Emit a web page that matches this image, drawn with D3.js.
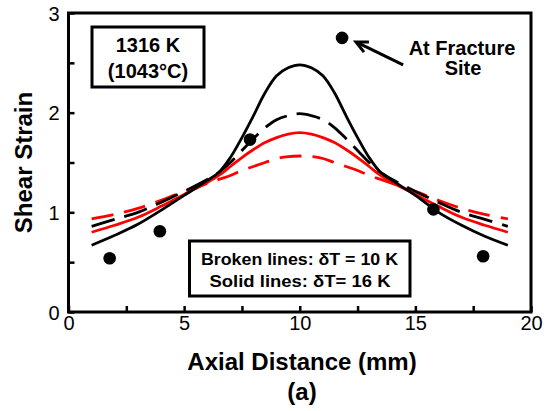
<!DOCTYPE html>
<html><head><meta charset="utf-8">
<script src="https://cdn.jsdelivr.net/npm/d3@7"></script>
<style>body{margin:0;background:#fff}svg{display:block}text{font-family:"Liberation Sans",Arial,sans-serif}</style>
</head><body><svg id="c" width="546" height="411"></svg>
<script>
const xs = [1,2,3,4,5,6,6.5,7,7.5,8,8.5,9,9.5,10,10.5,11,11.5,12,12.5,13,13.5,14,15,16,17,18,19];
const blackSolid  = [0.67,0.77,0.88,1.02,1.17,1.32,1.40,1.55,1.75,1.97,2.20,2.37,2.45,2.48,2.45,2.37,2.20,1.97,1.75,1.55,1.40,1.32,1.17,1.00,0.87,0.76,0.67];
const blackDashed = [0.86,0.93,1.00,1.10,1.21,1.33,1.40,1.50,1.62,1.74,1.85,1.93,1.97,1.99,1.97,1.93,1.85,1.74,1.62,1.50,1.40,1.33,1.21,1.10,1.00,0.93,0.86];
const redSolid    = [0.80,0.87,0.95,1.06,1.18,1.30,1.37,1.46,1.55,1.63,1.70,1.75,1.785,1.80,1.785,1.75,1.70,1.63,1.55,1.46,1.37,1.30,1.18,1.06,0.95,0.87,0.80];
const redDashed   = [0.935,0.98,1.04,1.12,1.21,1.29,1.33,1.37,1.42,1.46,1.50,1.54,1.56,1.565,1.56,1.54,1.50,1.46,1.42,1.37,1.33,1.29,1.21,1.12,1.04,0.98,0.935];
const ptX = [1.78,3.95,7.85,11.83,15.78,17.93];
const ptY = [0.54,0.81,1.73,2.75,1.03,0.56];
const xTicks = [0,5,10,15,20];
const yTicks = [0,1,2,3];
const xMinor = [0,2.5,5,7.5,10,12.5,15,17.5,20];
const yMinor = [0,0.5,1,1.5,2,2.5,3];

const svg = d3.select("#c");
const x = d3.scaleLinear().domain([0,20]).range([68.5,531]);
const y = d3.scaleLinear().domain([0,3]).range([312,13]);

// minor inward ticks
svg.append("g").attr("transform","translate(0,312)")
  .call(d3.axisBottom(x).tickValues(xMinor).tickSize(-6).tickFormat(""))
  .call(g=>{g.select(".domain").remove();g.selectAll("line").attr("stroke","#000").attr("stroke-width",2.5);});
svg.append("g").attr("transform","translate(68.5,0)")
  .call(d3.axisLeft(y).tickValues(yMinor).tickSize(-6).tickFormat(""))
  .call(g=>{g.select(".domain").remove();g.selectAll("line").attr("stroke","#000").attr("stroke-width",2.5);});
// labels
svg.append("g").attr("transform","translate(0,312)")
  .call(d3.axisBottom(x).tickValues(xTicks).tickSize(0).tickPadding(3).tickFormat(d3.format("d")))
  .call(g=>{g.select(".domain").remove();g.selectAll("text").attr("font-size",20).attr("fill","#000").attr("dy","0.75em");});
svg.append("g").attr("transform","translate(68.5,0)")
  .call(d3.axisLeft(y).tickValues(yTicks).tickSize(0).tickPadding(9).tickFormat(d3.format("d")))
  .call(g=>{g.select(".domain").remove();g.selectAll("text").attr("font-size",20).attr("fill","#000").attr("dy","0.35em");});

// frame
svg.append("rect").attr("x",x(0)).attr("y",y(3)).attr("width",x(20)-x(0)).attr("height",y(0)-y(3))
  .attr("fill","none").attr("stroke","#000").attr("stroke-width",3);

const line = d3.line().x((d,i)=>x(xs[i])).y(d=>y(d)).curve(d3.curveCatmullRom);
const series = [
  {v:redDashed,c:"#ff0000",dash:"22,11"},
  {v:blackDashed,c:"#000",dash:"24,10"},
  {v:redSolid,c:"#ff0000",dash:null},
  {v:blackSolid,c:"#000",dash:null}
];
series.forEach(s=>{
  svg.append("path").attr("d",line(s.v)).attr("fill","none").attr("stroke",s.c)
    .attr("stroke-width",2.8).attr("stroke-dasharray",s.dash);
});

svg.append("g").selectAll("circle").data(ptX).join("circle")
  .attr("cx",d=>x(d)).attr("cy",(d,i)=>y(ptY[i])).attr("r",6.3).attr("fill","#000");

// boxes
svg.append("rect").attr("x",92).attr("y",27).attr("width",112).attr("height",60)
  .attr("fill","#fff").attr("stroke","#000").attr("stroke-width",3);
svg.append("text").attr("x",148).attr("y",52).attr("text-anchor","middle").attr("font-size",20).attr("font-weight","bold").text("1316 K");
svg.append("text").attr("x",148).attr("y",78).attr("text-anchor","middle").attr("font-size",20).attr("font-weight","bold").text("(1043°C)");

svg.append("rect").attr("x",189.5).attr("y",241).attr("width",220.5).attr("height",55)
  .attr("fill","#fff").attr("stroke","#000").attr("stroke-width",3);
svg.append("text").attr("x",299.5).attr("y",264.5).attr("text-anchor","middle").attr("font-size",17).attr("font-weight","bold")
  .attr("textLength",197).attr("lengthAdjust","spacingAndGlyphs").text("Broken lines: δT = 10 K");
svg.append("text").attr("x",300).attr("y",286.5).attr("text-anchor","middle").attr("font-size",17).attr("font-weight","bold")
  .attr("textLength",181).attr("lengthAdjust","spacingAndGlyphs").text("Solid lines: δT= 16 K");

// annotation
const arrowTail = [14.47,2.48], arrowTip = [12.43,2.71];
const tx=x(arrowTip[0]), ty=y(arrowTip[1]), sx=x(arrowTail[0]), sy=y(arrowTail[1]);
svg.append("line").attr("x1",sx).attr("y1",sy).attr("x2",tx+1).attr("y2",ty+0.5).attr("stroke","#000").attr("stroke-width",3);
const ang=Math.atan2(sy-ty,sx-tx), hl=13, ha=0.45;
svg.append("path").attr("d",`M${tx+hl*Math.cos(ang-ha)},${ty+hl*Math.sin(ang-ha)}L${tx},${ty}L${tx+hl*Math.cos(ang+ha)},${ty+hl*Math.sin(ang+ha)}`)
  .attr("fill","none").attr("stroke","#000").attr("stroke-width",3).attr("stroke-linejoin","miter");
svg.append("text").attr("x",462).attr("y",55).attr("text-anchor","middle").attr("font-size",20).attr("font-weight","bold").text("At Fracture");
svg.append("text").attr("x",463).attr("y",75).attr("text-anchor","middle").attr("font-size",20).attr("font-weight","bold").text("Site");

// axis titles
svg.append("text").attr("x",302).attr("y",370).attr("text-anchor","middle").attr("font-size",24).attr("font-weight","bold").text("Axial Distance (mm)");
svg.append("text").attr("x",302).attr("y",400).attr("text-anchor","middle").attr("font-size",24).attr("font-weight","bold").text("(a)");
svg.append("text").attr("transform","translate(31.5,162.5) rotate(-90)").attr("text-anchor","middle").attr("font-size",24).attr("font-weight","bold").text("Shear Strain");
</script></body></html>
